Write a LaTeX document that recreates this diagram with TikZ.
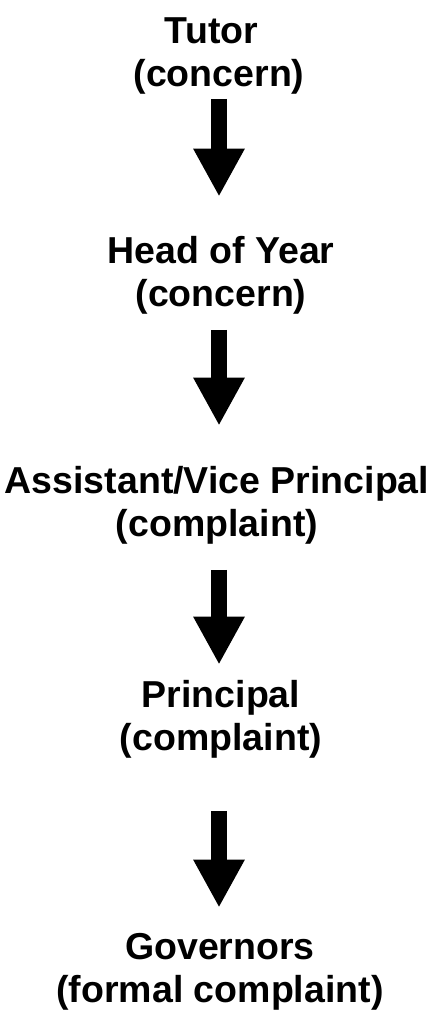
\documentclass[tikz,border=0pt]{standalone}
\usepackage{fontspec}
\setmainfont{Liberation Sans}
\usetikzlibrary{arrows.meta}

\begin{document}
\begin{tikzpicture}[x=1pt,y=-1pt]
        \tikzstyle{level}=[align=center,inner sep=0pt,font=\fontsize{37.5}{43}\selectfont\bfseries,anchor=base]
        \tikzstyle{down}=[line width=16pt,-{Triangle[width=48pt,length=48pt]}]
        \useasboundingbox (0,0) rectangle (435,1012);

        \node[level] (tutor) at (219,86) {Tutor\kern15pt\\(concern)};
        \node[level] (hoy) at (221,306) {Head of Year\\(concern)};
        \node[level] (avp) at (217,536) {Assistant/Vice Principal\\(complaint)};
        \node[level] (principal) at (221,750) {Principal\\(complaint)};
        \node[level] (governors) at (220,1002) {Governors\\(formal complaint)};

        %\draw (tutor) -- (hoy);
        \draw[down,shorten <=5pt,shorten >=39pt] (tutor.south -| 219,0) -- (hoy.north -| 219,0);
        \draw[down,shorten <=16pt,shorten >=40pt] (hoy.south -| 219,0) -- (avp.north -| 219,0);
        \draw[down,shorten <=26pt,shorten >=15pt] (avp.south -| 219,0) -- (principal.north -| 219,0);
        \draw[down,shorten <=53pt,shorten >=25pt] (principal.south -| 219,0) -- (governors.north -| 219,0);
    \end{tikzpicture}
\end{document}
